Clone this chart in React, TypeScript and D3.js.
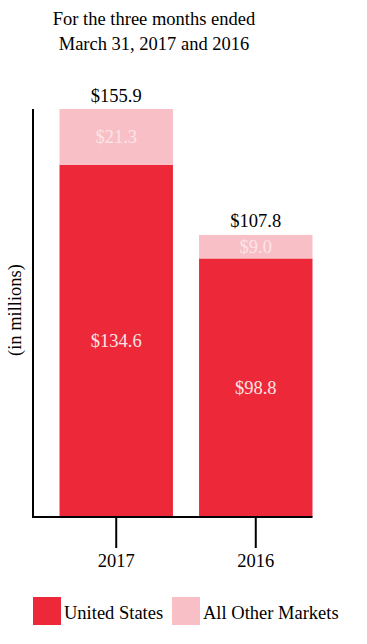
import React from "react";
import * as d3 from "d3";

const years = ["2017", "2016"];
const unitedStates = [134.6, 98.8];
const otherMarkets = [21.3, 9.0];
const totals = [155.9, 107.8];
const seriesNames = ["United States", "All Other Markets"];
const titleLines = ["For the three months ended", "March 31, 2017 and 2016"];
const yLabel = "(in millions)";

const RED = "#ED2939";
const PINK = "#F8C0C6";
const FONT = "'Liberation Serif', 'Times New Roman', serif";

export default function App() {
  const W = 367;
  const H = 644;
  const baseY = 517;
  const topY = 109;
  const axisX = 33;

  const y = d3.scaleLinear().domain([0, d3.max(totals) as number]).range([baseY, topY]);
  const x = d3
    .scaleBand<string>()
    .domain(years)
    .range([axisX, 339])
    .paddingInner(0.187)
    .paddingOuter(0.19);

  const rows = years.map((yr, i) => ({ year: yr, us: unitedStates[i], other: otherMarkets[i] }));
  const stack = d3.stack<any>().keys(["us", "other"])(rows);
  const colors = [RED, PINK];
  const lastBarEnd = (x(years[years.length - 1]) as number) + x.bandwidth();
  const fs = 18.5;

  return (
    <svg
      width={W}
      height={H}
      style={{ position: "absolute", left: 0, top: 0, background: "#fff" }}
      fontFamily={FONT}
    >
      {titleLines.map((t, i) => (
        <text key={t} x={154} y={25 + i * 25} textAnchor="middle" fontSize={fs} fill="#000">
          {t}
        </text>
      ))}

      {stack.map((layer, li) =>
        layer.map((d, i) => {
          const x0 = x(years[i]) as number;
          const y0 = y(d[1]);
          const y1 = y(d[0]);
          const val = li === 0 ? unitedStates[i] : otherMarkets[i];
          return (
            <g key={`${li}-${i}`}>
              <rect x={x0} y={y0} width={x.bandwidth()} height={y1 - y0} fill={colors[li]} />
              <text
                x={x0 + x.bandwidth() / 2}
                y={(y0 + y1) / 2 + 6.5}
                textAnchor="middle"
                fontSize={fs}
                fill="#FBE4E6"
              >
                {`$${val.toFixed(1)}`}
              </text>
            </g>
          );
        })
      )}

      {years.map((yr, i) => (
        <text
          key={`t-${yr}`}
          x={(x(yr) as number) + x.bandwidth() / 2}
          y={y(totals[i]) - 7.5}
          textAnchor="middle"
          fontSize={fs}
          fill="#000"
        >
          {`$${totals[i].toFixed(1)}`}
        </text>
      ))}

      <line x1={axisX} x2={axisX} y1={topY} y2={baseY + 1} stroke="#000" strokeWidth={2} />
      <line x1={axisX - 1} x2={lastBarEnd} y1={baseY} y2={baseY} stroke="#000" strokeWidth={2} />

      {years.map((yr) => {
        const cx = (x(yr) as number) + x.bandwidth() / 2;
        return (
          <g key={`tick-${yr}`}>
            <line x1={cx} x2={cx} y1={baseY} y2={548} stroke="#000" strokeWidth={2} />
            <text x={cx} y={567} textAnchor="middle" fontSize={fs} fill="#000">
              {yr}
            </text>
          </g>
        );
      })}

      <text
        transform={`translate(21, 310) rotate(-90)`}
        textAnchor="middle"
        fontSize={fs}
        fill="#000"
      >
        {yLabel}
      </text>

      {seriesNames.map((name, i) => {
        const lx = i === 0 ? 33 : 172;
        return (
          <g key={name}>
            <rect x={lx} y={597} width={28} height={28} fill={colors[i]} />
            <text x={lx + 31} y={619} fontSize={fs} fill="#000">
              {name}
            </text>
          </g>
        );
      })}
    </svg>
  );
}
